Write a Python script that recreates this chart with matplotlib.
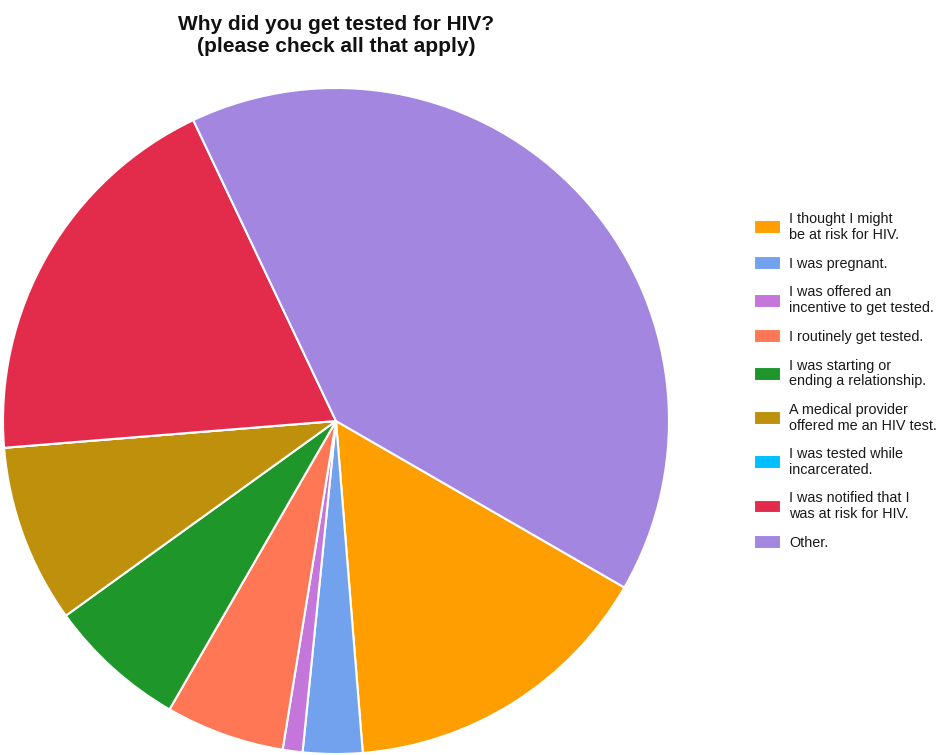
import matplotlib
matplotlib.use("Agg")
import matplotlib.pyplot as plt

plt.rcParams['font.family'] = ['Liberation Sans', 'DejaVu Sans']

title = "Why did you get tested for HIV?\n(please check all that apply)"
labels = [
    "I thought I might\nbe at risk for HIV.",
    "I was pregnant.",
    "I was offered an\nincentive to get tested.",
    "I routinely get tested.",
    "I was starting or\nending a relationship.",
    "A medical provider\noffered me an HIV test.",
    "I was tested while\nincarcerated.",
    "I was notified that I\nwas at risk for HIV.",
    "Other.",
]
counts = [16, 3, 1, 6, 7, 9, 0, 20, 42]
colors = ["#FF9E00", "#72A2EE", "#C576DB", "#FF7755", "#1F962A",
          "#BF900B", "#00BFFF", "#E32C4C", "#A386E0"]

W, H = 936, 755
fig = plt.figure(figsize=(W / 100, H / 100), dpi=100)
cx, cy, r = 336, 421, 333
ax = fig.add_axes([(cx - r) / W, (H - cy - r) / H, 2 * r / W, 2 * r / H])
wedges, _ = ax.pie(counts, colors=colors, startangle=-30, counterclock=False,
                   wedgeprops=dict(edgecolor="white", linewidth=1.5))
ax.set_xlim(-1, 1)
ax.set_ylim(-1, 1)
ax.set_aspect("equal")
ax.axis("off")

fig.text(336 / W, 1 - 35 / H, title, ha="center", va="center",
         fontsize=15, fontweight="bold", color="#111111", linespacing=1.2)

leg = fig.legend(wedges, labels, loc="upper left",
                 bbox_to_anchor=(754 / W, 1 - 212 / H),
                 frameon=False, fontsize=10.4, labelcolor="#1a1a1a",
                 handlelength=1.9, handleheight=1.1, handletextpad=0.55,
                 labelspacing=1.0, borderaxespad=0, borderpad=0)
for t in leg.get_texts():
    t.set_linespacing(1.15)

fig.savefig("out.png", dpi=100, facecolor="white")
